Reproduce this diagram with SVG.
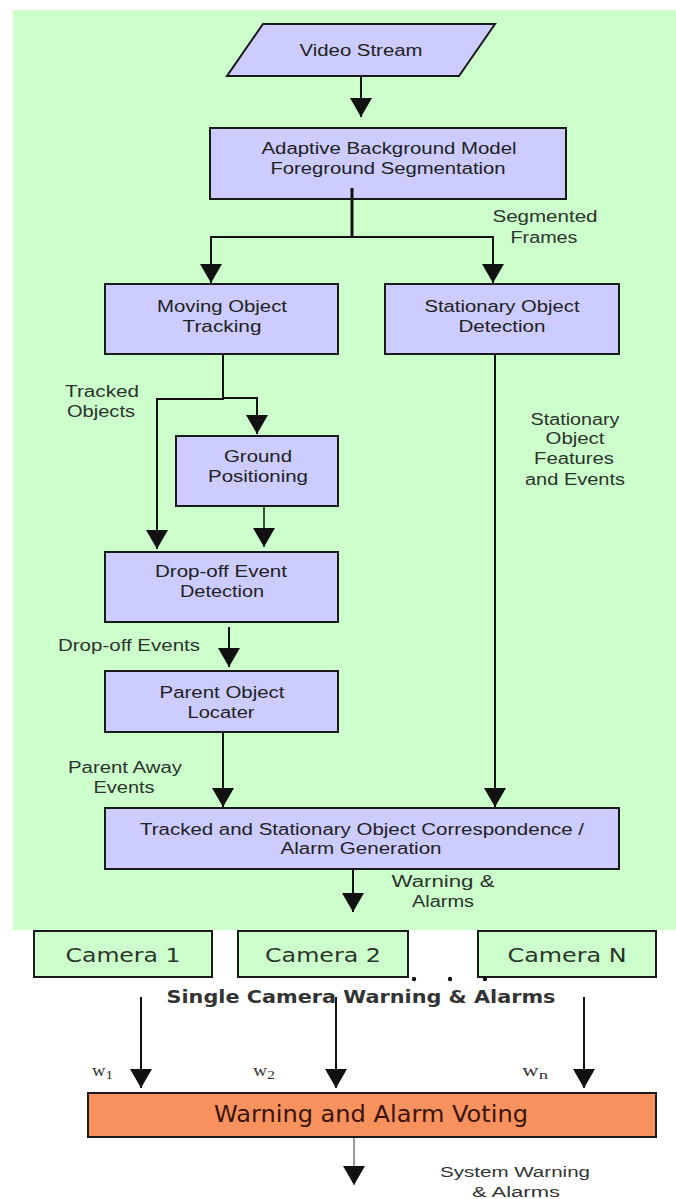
<svg xmlns="http://www.w3.org/2000/svg" width="676" height="1199" viewBox="0 0 676 1199">
  <style>
    .box { fill: #ccccff; stroke: #1a1a1a; stroke-width: 2; }
    .cam { fill: #ccffcc; stroke: #1a1a1a; stroke-width: 2; }
    .vote { fill: #f7925f; stroke: #1a1a1a; stroke-width: 2; }
    .t { font-family: "Liberation Sans", Arial, sans-serif; font-size: 16px; fill: #222; text-anchor: middle; }
    .lbl { font-family: "Liberation Sans", Arial, sans-serif; font-size: 16px; fill: #2b332b; text-anchor: middle; }
    .ct { font-family: "DejaVu Sans", Verdana, sans-serif; font-size: 20px; fill: #2a352a; text-anchor: middle; }
    .bold { font-family: "DejaVu Sans", Verdana, sans-serif; font-size: 18px; font-weight: bold; fill: #333; text-anchor: middle; }
    .w { font-family: "Liberation Serif", "Times New Roman", serif; font-size: 16px; fill: #333; }
    .c { stroke: #111; stroke-width: 2; fill: none; }
  </style>
  <defs>
    <marker id="arr" markerUnits="userSpaceOnUse" markerWidth="24" markerHeight="24" viewBox="0 -12 20 24" refX="19" refY="0" orient="auto">
      <path d="M0,-11 L19,0 L0,11 Z" fill="#111"/>
    </marker>
  </defs>

  <!-- single-camera processing area -->
  <rect x="13" y="10" width="663" height="920" fill="#ccffcc"/>

  <g id="video-stream">
    <polygon points="263,24 495,24 459,76 227,76" class="box"/>
    <text class="t" x="361" y="56" textLength="123" lengthAdjust="spacingAndGlyphs">Video Stream</text>
  </g>

  <g id="background-model">
    <rect x="210" y="128" width="356" height="71" class="box"/>
    <text class="t" x="389" y="154" textLength="255" lengthAdjust="spacingAndGlyphs">Adaptive Background Model</text>
    <text class="t" x="388" y="174" textLength="235" lengthAdjust="spacingAndGlyphs">Foreground Segmentation</text>
  </g>

  <g id="moving-tracking">
    <rect x="105" y="284" width="233" height="70" class="box"/>
    <text class="t" x="222" y="312" textLength="130" lengthAdjust="spacingAndGlyphs">Moving Object</text>
    <text class="t" x="222" y="332" textLength="79" lengthAdjust="spacingAndGlyphs">Tracking</text>
  </g>

  <g id="stationary-detection">
    <rect x="385" y="284" width="234" height="70" class="box"/>
    <text class="t" x="502" y="312" textLength="155" lengthAdjust="spacingAndGlyphs">Stationary Object</text>
    <text class="t" x="502" y="332" textLength="87" lengthAdjust="spacingAndGlyphs">Detection</text>
  </g>

  <g id="ground-positioning">
    <rect x="176" y="436" width="162" height="70" class="box"/>
    <text class="t" x="258" y="462" textLength="68" lengthAdjust="spacingAndGlyphs">Ground</text>
    <text class="t" x="258" y="482" textLength="100" lengthAdjust="spacingAndGlyphs">Positioning</text>
  </g>

  <g id="dropoff-detection">
    <rect x="105" y="552" width="233" height="70" class="box"/>
    <text class="t" x="221" y="577" textLength="132" lengthAdjust="spacingAndGlyphs">Drop-off Event</text>
    <text class="t" x="222" y="597" textLength="84" lengthAdjust="spacingAndGlyphs">Detection</text>
  </g>

  <g id="parent-locater">
    <rect x="105" y="671" width="233" height="61" class="box"/>
    <text class="t" x="222" y="698" textLength="125" lengthAdjust="spacingAndGlyphs">Parent Object</text>
    <text class="t" x="221" y="718" textLength="67" lengthAdjust="spacingAndGlyphs">Locater</text>
  </g>

  <g id="correspondence">
    <rect x="105" y="808" width="514" height="61" class="box"/>
    <text class="t" x="362" y="835" textLength="444" lengthAdjust="spacingAndGlyphs">Tracked and Stationary Object Correspondence /</text>
    <text class="t" x="361" y="854" textLength="161" lengthAdjust="spacingAndGlyphs">Alarm Generation</text>
  </g>

  <g id="camera-1">
    <rect x="34" y="931" width="178" height="46" class="cam"/>
    <text class="ct" x="123" y="962" textLength="115" lengthAdjust="spacingAndGlyphs">Camera 1</text>
  </g>
  <g id="camera-2">
    <rect x="238" y="931" width="170" height="46" class="cam"/>
    <text class="ct" x="323" y="962" textLength="116" lengthAdjust="spacingAndGlyphs">Camera 2</text>
  </g>
  <g id="camera-n">
    <rect x="478" y="931" width="178" height="46" class="cam"/>
    <text class="ct" x="567" y="962" textLength="119" lengthAdjust="spacingAndGlyphs">Camera N</text>
  </g>
  <g id="ellipsis" fill="#111">
    <circle cx="414" cy="979" r="2.2"/>
    <circle cx="450" cy="979" r="2.2"/>
    <circle cx="485" cy="979" r="2.2"/>
  </g>

  <g id="voting">
    <rect x="88" y="1093" width="568" height="44" class="vote"/>
    <text x="371" y="1122" font-family="DejaVu Sans, Verdana, sans-serif" font-size="23" fill="#3a1408" text-anchor="middle" textLength="314" lengthAdjust="spacingAndGlyphs">Warning and Alarm Voting</text>
  </g>

  <g id="connectors">
    <line x1="361" y1="76" x2="361" y2="117" class="c" marker-end="url(#arr)"/>
    <line x1="352" y1="188" x2="352" y2="237" stroke="#111" stroke-width="3"/>
    <polyline points="211,283 211,237 493,237 493,283" class="c"/>
    <line x1="211" y1="260" x2="211" y2="283" class="c" marker-end="url(#arr)"/>
    <line x1="493" y1="260" x2="493" y2="283" class="c" marker-end="url(#arr)"/>
    <polyline points="223,354 223,399 157,399 157,549" class="c" marker-end="url(#arr)"/>
    <polyline points="223,398 257,398 257,434" class="c" marker-end="url(#arr)"/>
    <line x1="264" y1="506" x2="264" y2="547" stroke="#3d4d3d" stroke-width="2" marker-end="url(#arr)"/>
    <line x1="229" y1="627" x2="229" y2="667" class="c" marker-end="url(#arr)"/>
    <line x1="223" y1="732" x2="223" y2="807" class="c" marker-end="url(#arr)"/>
    <line x1="495" y1="354" x2="495" y2="807" class="c" marker-end="url(#arr)"/>
    <line x1="353" y1="869" x2="353" y2="912" class="c" marker-end="url(#arr)"/>
    <line x1="141" y1="997" x2="141" y2="1088" class="c" marker-end="url(#arr)"/>
    <line x1="336" y1="997" x2="336" y2="1088" class="c" marker-end="url(#arr)"/>
    <line x1="584" y1="997" x2="584" y2="1088" class="c" marker-end="url(#arr)"/>
    <line x1="354" y1="1138" x2="354" y2="1185" stroke="#999" stroke-width="2"/>
    <path d="M343,1166 L365,1166 L354,1185 Z" fill="#111"/>
  </g>

  <g id="labels">
    <text class="lbl" x="545" y="222" textLength="105" lengthAdjust="spacingAndGlyphs">Segmented</text>
    <text class="lbl" x="544" y="243" textLength="67" lengthAdjust="spacingAndGlyphs">Frames</text>
    <text class="lbl" x="102" y="397" textLength="74" lengthAdjust="spacingAndGlyphs">Tracked</text>
    <text class="lbl" x="101" y="417" textLength="68" lengthAdjust="spacingAndGlyphs">Objects</text>
    <text class="lbl" x="575" y="425" textLength="89" lengthAdjust="spacingAndGlyphs">Stationary</text>
    <text class="lbl" x="575" y="444" textLength="59" lengthAdjust="spacingAndGlyphs">Object</text>
    <text class="lbl" x="574" y="464" textLength="80" lengthAdjust="spacingAndGlyphs">Features</text>
    <text class="lbl" x="575" y="485" textLength="100" lengthAdjust="spacingAndGlyphs">and Events</text>
    <text class="lbl" x="129" y="651" textLength="142" lengthAdjust="spacingAndGlyphs">Drop-off Events</text>
    <text class="lbl" x="125" y="773" textLength="114" lengthAdjust="spacingAndGlyphs">Parent Away</text>
    <text class="lbl" x="124" y="793" textLength="61" lengthAdjust="spacingAndGlyphs">Events</text>
    <text class="lbl" x="443" y="887" textLength="103" lengthAdjust="spacingAndGlyphs">Warning  &amp;</text>
    <text class="lbl" x="443" y="907" textLength="62" lengthAdjust="spacingAndGlyphs">Alarms</text>
    <text class="bold" x="361" y="1003" textLength="389" lengthAdjust="spacingAndGlyphs">Single Camera Warning &amp; Alarms</text>
    <text class="w" x="92" y="1076" textLength="21" lengthAdjust="spacingAndGlyphs">w<tspan font-size="13" dy="3">1</tspan></text>
    <text class="w" x="253" y="1076" textLength="22" lengthAdjust="spacingAndGlyphs">w<tspan font-size="13" dy="3">2</tspan></text>
    <text class="w" x="522" y="1076" textLength="26" lengthAdjust="spacingAndGlyphs">w<tspan font-size="13" dy="3">n</tspan></text>
    <text x="515" y="1177" font-family="Liberation Sans, Arial, sans-serif" font-size="14" fill="#333" text-anchor="middle" textLength="150" lengthAdjust="spacingAndGlyphs">System Warning</text>
    <text x="516" y="1197" font-family="Liberation Sans, Arial, sans-serif" font-size="14" fill="#333" text-anchor="middle" textLength="88" lengthAdjust="spacingAndGlyphs">&amp; Alarms</text>
  </g>
</svg>
